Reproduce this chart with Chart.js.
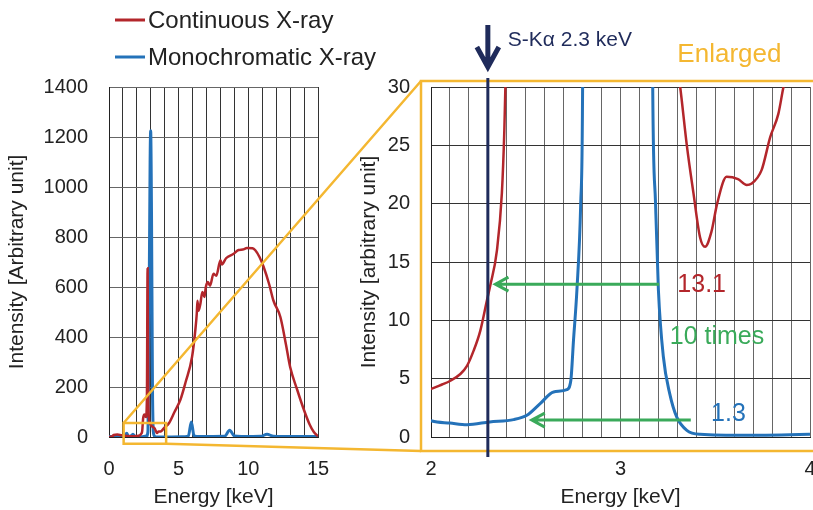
<!DOCTYPE html>
<html lang="en">
<head>
<meta charset="UTF-8">
<title>Continuous vs monochromatic X-ray spectrum</title>
<script src="https://cdn.jsdelivr.net/npm/chart.js"></script>
<style>
  html, body { margin: 0; padding: 0; background: #fff; overflow: hidden; }
  #wrap { position: relative; width: 813px; height: 510px; overflow: hidden; }
  canvas { position: absolute; top: 0; }
  #leftChart { left: 0; }
  #rightChart { left: 330px; }
  #overlay { left: 0; pointer-events: none; }
</style>
</head>
<body>
<div id="wrap">
  <canvas id="leftChart" width="330" height="510"></canvas>
  <canvas id="rightChart" width="500" height="510"></canvas>
  <canvas id="overlay" width="813" height="510"></canvas>
</div>
<script>
// values: [energy keV, intensity]
const seriesNames = ['Continuous X-ray', 'Monochromatic X-ray'];
const continuousSpectrum = [
  [0, 0], [0.2, 2], [0.35, 8], [0.6, 10], [0.9, 7], [1.3, 4], [1.7, 3],
  [2.005, 4.15], [2.058, 4.5], [2.1, 4.8], [2.155, 5.4], [2.19, 6.1], [2.225, 7.4],
  [2.26, 9.1], [2.295, 11.7], [2.313, 13.0], [2.348, 16], [2.374, 20.9], [2.387, 26.3],
  [2.4, 35], [2.45, 75], [2.55, 90], [2.65, 80], [2.72, 150], [2.77, 675], [2.82, 150],
  [2.9, 60], [3.0, 48], [3.1, 42], [3.2, 38], [3.28, 34], [3.315, 30], [3.35, 25],
  [3.385, 20.9], [3.42, 17.1], [3.446, 16.3], [3.48, 17.6], [3.51, 20], [3.56, 22.3],
  [3.62, 22.1], [3.666, 21.6], [3.69, 21.7], [3.745, 22.9], [3.79, 25.7], [3.833, 27.7],
  [3.86, 30], [3.95, 36], [4.3, 55], [4.7, 100], [5.13, 150], [5.5, 220], [5.96, 320],
  [6.2, 430], [6.3, 494], [6.35, 545], [6.42, 505], [6.55, 530], [6.7, 580], [6.85, 560],
  [6.95, 600], [7.1, 620], [7.25, 605], [7.5, 653], [7.7, 645], [8.0, 707], [8.1, 690],
  [8.4, 715], [8.95, 733], [9.3, 748], [9.6, 750], [9.9, 756], [10.3, 755], [10.5, 747],
  [10.8, 720], [11.1, 680], [11.5, 610], [11.8, 546], [12.3, 480], [12.7, 370], [13.0, 280],
  [13.5, 190], [14.0, 107], [14.4, 50], [14.7, 20], [15.0, 3]
];
const monoSpectrum = [
  [0, 2], [0.5, 2], [1.0, 3], [1.15, 6], [1.27, 15], [1.38, 4], [1.55, 3], [1.72, 11],
  [1.85, 3], [2.005, 1.37], [2.1, 1.2], [2.19, 1.06], [2.31, 1.29], [2.436, 1.49],
  [2.506, 1.86], [2.576, 2.86], [2.647, 3.86], [2.717, 4.06], [2.738, 4.86], [2.752, 8.3],
  [2.77, 12.6], [2.79, 20], [2.8, 30], [2.85, 300], [2.95, 1100], [2.99, 1225], [3.05, 900],
  [3.12, 200], [3.17, 30], [3.185, 20], [3.2, 12.6], [3.226, 6.9], [3.26, 3.7], [3.297, 1.7],
  [3.35, 0.57], [3.42, 0.23], [3.67, 0.14], [4.0, 0.23], [4.5, 0.5], [5.5, 1.5], [5.7, 5],
  [5.91, 60], [6.1, 5], [6.3, 2], [8.3, 3], [8.66, 27], [9.0, 4], [9.5, 2], [10.9, 3],
  [11.34, 11], [11.8, 3], [12.5, 2], [15, 2]
];
const leftXTickLabels = [0, 5, 10, 15];
const rightXTickLabels = [2, 3, 4];
const skaEnergy = 2.3;
const skaLabel = 'S-K\u03b1 2.3 keV';
const ratioLabels = ['13.1', '10 times', '1.3'];

const RED = '#b3262b';
const BLUE = '#2472b9';
const ORANGE = '#f4b731';
const GREEN = '#3aaa5a';
const NAVY = '#1f2b5b';
const FONT = "'Liberation Sans', Arial, sans-serif";

Chart.defaults.font.family = FONT;
Chart.defaults.color = '#222';

function toXY(arr) {
  return arr.map(p => ({ x: p[0], y: p[1] }));
}

function makeDatasets(width) {
  return [
    {
      label: seriesNames[0],
      data: toXY(continuousSpectrum),
      borderColor: RED,
      borderWidth: width,
      pointRadius: 0,
      cubicInterpolationMode: 'monotone'
    },
    {
      label: seriesNames[1],
      data: toXY(monoSpectrum),
      borderColor: BLUE,
      borderWidth: width + 0.5,
      pointRadius: 0,
      cubicInterpolationMode: 'monotone'
    }
  ];
}

function tickFilter(list) {
  return v => list.some(t => Math.abs(t - v) < 1e-6) ? String(Math.round(v)) : '';
}

function makeOptions(cfg) {
  return {
    responsive: false,
    animation: false,
    layout: { padding: cfg.padding },
    plugins: { legend: { display: false }, tooltip: { enabled: false } },
    scales: {
      x: {
        type: 'linear',
        min: cfg.xMin, max: cfg.xMax,
        afterFit: s => { s.height = 73; },
        // invisible tick marks push the labels down without widening the padding
        grid: { color: cfg.xGrid, lineWidth: 1, drawTicks: true, tickLength: 20, tickColor: 'rgba(0,0,0,0)' },
        border: { color: '#222' },
        ticks: {
          stepSize: cfg.xStep, autoSkip: false, maxRotation: 0,
          padding: 0, font: { size: 20 },
          callback: tickFilter(cfg.xLabels)
        },
        title: { display: true, text: 'Energy [keV]', font: { size: 21 }, padding: { top: 0, bottom: 0 } }
      },
      y: {
        min: 0, max: cfg.yMax,
        afterFit: s => { s.width = cfg.yWidth; },
        grid: { color: cfg.yGrid, lineWidth: 1, drawTicks: false },
        border: { color: '#222' },
        ticks: { stepSize: cfg.yStep, padding: 21, font: { size: 20 }, callback: v => String(v) },
        title: { display: true, text: cfg.yTitle, font: { size: 21 }, padding: { top: cfg.yTitlePad, bottom: 0 } }
      }
    }
  };
}

const leftChart = new Chart(document.getElementById('leftChart'), {
  type: 'line',
  data: { datasets: makeDatasets(2.5) },
  options: makeOptions({
    padding: { left: 0, right: 12, top: 87, bottom: 0 },
    xMin: 0, xMax: 15, xStep: 1, xLabels: leftXTickLabels,
    yMax: 1400, yStep: 200, yWidth: 109,
    xGrid: '#333', yGrid: '#666',
    yTitle: 'Intensity [Arbitrary unit]', yTitlePad: 5
  })
});

const rightChart = new Chart(document.getElementById('rightChart'), {
  type: 'line',
  data: { datasets: makeDatasets(2.5) },
  options: makeOptions({
    padding: { left: 25, right: 20, top: 87, bottom: 0 },
    xMin: 2, xMax: 4, xStep: 0.1, xLabels: rightXTickLabels,
    yMax: 30, yStep: 5, yWidth: 76,
    xGrid: '#666', yGrid: '#333',
    yTitle: 'Intensity [arbitrary unit]', yTitlePad: 2
  })
});

// annotations across both charts
function drawOverlay() {
  const ctx = document.getElementById('overlay').getContext('2d');
  const rOff = 330;
  const lx = v => leftChart.scales.x.getPixelForValue(v);
  const ly = v => leftChart.scales.y.getPixelForValue(v);
  const rx = v => rightChart.scales.x.getPixelForValue(v) + rOff;
  const ry = v => rightChart.scales.y.getPixelForValue(v);
  const ra = rightChart.chartArea;

  // legend
  ctx.font = '24px ' + FONT;
  ctx.textBaseline = 'middle';
  [[RED, 20], [BLUE, 57]].forEach((item, i) => {
    ctx.strokeStyle = item[0];
    ctx.lineWidth = 3;
    ctx.beginPath();
    ctx.moveTo(115, item[1]);
    ctx.lineTo(145, item[1]);
    ctx.stroke();
    ctx.fillStyle = '#222';
    ctx.fillText(seriesNames[i], 148, item[1] + 1);
  });

  // zoom box on the left chart + enlarged frame
  const bx1 = ra.left + rOff - 10, by1 = ra.top - 6, by2 = ra.bottom + 14;
  const sx1 = lx(1.05), sy1 = ly(56), sx2 = lx(4.1), sy2 = ly(-27);
  ctx.strokeStyle = ORANGE;
  ctx.lineWidth = 2.5;
  ctx.strokeRect(sx1, sy1, sx2 - sx1, sy2 - sy1);
  ctx.strokeRect(bx1, by1, 840 - bx1, by2 - by1);
  ctx.beginPath();
  ctx.moveTo(sx1, sy1); ctx.lineTo(bx1, by1);
  ctx.moveTo(sx2, sy2); ctx.lineTo(bx1, by2);
  ctx.stroke();
  ctx.fillStyle = ORANGE;
  ctx.font = '26px ' + FONT;
  ctx.fillText('Enlarged', rx(3.3), ra.top - 32);

  // S-Ka marker
  const kx = rx(skaEnergy);
  ctx.strokeStyle = NAVY;
  ctx.lineWidth = 3;
  ctx.beginPath();
  ctx.moveTo(kx, ra.top - 9);
  ctx.lineTo(kx, ra.bottom + 20);
  ctx.stroke();
  ctx.lineWidth = 5;
  ctx.beginPath();
  ctx.moveTo(kx, ra.top - 62);
  ctx.lineTo(kx, ra.top - 20);
  ctx.moveTo(kx - 11, ra.top - 40);
  ctx.lineTo(kx, ra.top - 20);
  ctx.lineTo(kx + 11, ra.top - 40);
  ctx.stroke();
  ctx.fillStyle = NAVY;
  ctx.font = '21px ' + FONT;
  ctx.fillText(skaLabel, kx + 20, ra.top - 47);

  // green arrows
  function arrowLeft(x1, x2, y) {
    ctx.strokeStyle = GREEN;
    ctx.lineWidth = 3;
    ctx.beginPath();
    ctx.moveTo(x2, y);
    ctx.lineTo(x1 + 1, y);
    ctx.moveTo(x1 + 13, y - 7);
    ctx.lineTo(x1, y);
    ctx.lineTo(x1 + 13, y + 7);
    ctx.stroke();
  }
  arrowLeft(rx(2.34), rx(3.204), ry(13.1));
  arrowLeft(rx(2.532), rx(3.371), ry(1.45));

  ctx.font = '25px ' + FONT;
  ctx.fillStyle = RED;
  ctx.fillText(ratioLabels[0], rx(3.3), ry(13.1) + 1);
  ctx.fillStyle = GREEN;
  ctx.fillText(ratioLabels[1], rx(3.26), ry(8.6));
  ctx.fillStyle = BLUE;
  ctx.fillText(ratioLabels[2], rx(3.478), ry(2.0));
}

drawOverlay();
</script>
</body>
</html>
